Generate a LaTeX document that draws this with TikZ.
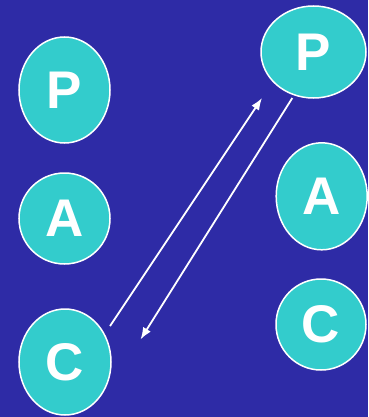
\documentclass[tikz,border=0pt]{standalone}
\usepackage{fontspec}
\setmainfont{Liberation Sans}
\usetikzlibrary{shapes.geometric,arrows.meta}
\definecolor{bgblue}{RGB}{46,43,166}
\definecolor{teal}{RGB}{51,204,204}
\begin{document}
\begin{tikzpicture}[x=1pt,y=-1pt,
  letter/.style={ellipse,draw=white,line width=1.5pt,fill=teal,
    text=white,font=\fontsize{53}{53}\selectfont\bfseries,inner sep=0pt},
  link/.style={draw=white,line width=1.8pt,-{Latex[length=12pt,width=9pt]}}]
  \fill[bgblue] (0,0) rectangle (368,417);
  \useasboundingbox (0,0) rectangle (368,417);
  % left column
  \node[letter,minimum width=91pt,minimum height=106pt] (lp) at (64.5,90) {P};
  \node[letter,minimum width=91pt,minimum height=91pt] (la) at (64.5,218.5) {A};
  \node[letter,minimum width=92pt,minimum height=106pt] (lc) at (65,362) {C};
  % right column
  \node[letter,minimum width=105pt,minimum height=92pt] (rp) at (313.5,52) {P};
  \node[letter,minimum width=91pt,minimum height=107pt] (ra) at (321.7,196.3) {A};
  \node[letter,minimum width=90pt,minimum height=91pt] (rc) at (321,324.5) {C};
  % arrow end points
  \coordinate (s1) at (110,326);
  \coordinate (e1) at (262,98);
  \coordinate (s2) at (292.3,98);
  \coordinate (e2) at (140.5,339.5);
  \draw[link] (s1) -- (e1);
  \draw[link] (s2) -- (e2);
\end{tikzpicture}
\end{document}
